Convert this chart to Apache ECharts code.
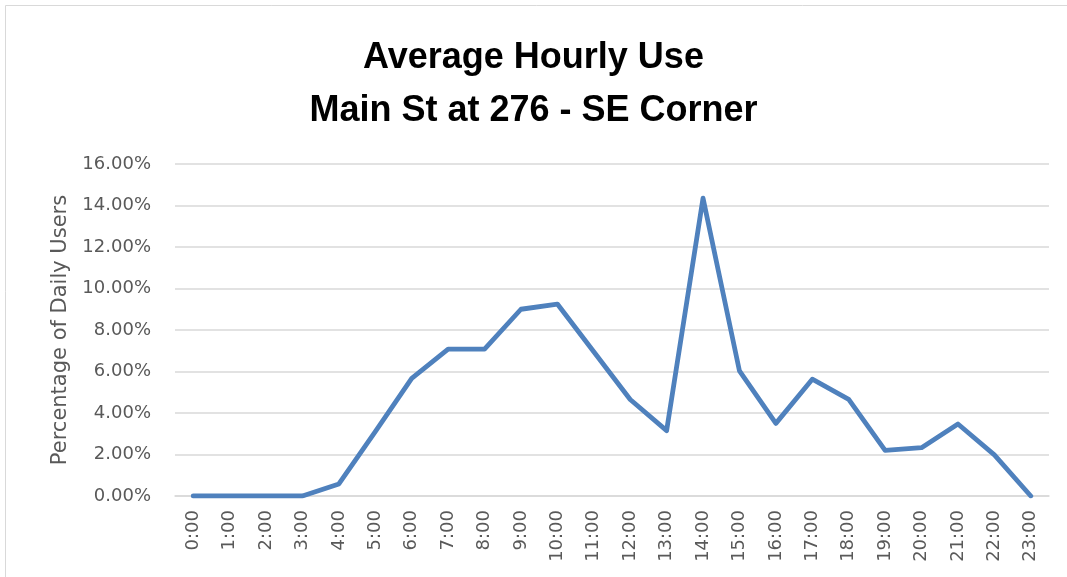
<!DOCTYPE html>
<html>
<head>
<meta charset="utf-8">
<script src="https://cdn.jsdelivr.net/npm/echarts@6/dist/echarts.min.js"></script>
<style>
  html, body { margin: 0; padding: 0; background: #fff; }
  #chart { width: 1067px; height: 577px; }
</style>
</head>
<body>
<div id="chart"></div>
<script>
const titleLines = ["Average Hourly Use", "Main St at 276 - SE Corner"];
const yAxisTitle = "Percentage of Daily Users";
const hours = ["0:00","1:00","2:00","3:00","4:00","5:00","6:00","7:00","8:00","9:00","10:00","11:00",
               "12:00","13:00","14:00","15:00","16:00","17:00","18:00","19:00","20:00","21:00","22:00","23:00"];
const usePercent = [0, 0, 0, 0, 0.58, 3.1, 5.67, 7.08, 7.08, 9.0, 9.25, 6.95,
                    4.65, 3.15, 14.35, 6.03, 3.5, 5.63, 4.66, 2.2, 2.33, 3.47, 1.98, 0];
const yMin = 0, yMax = 16, yStep = 2;

const chart = echarts.init(document.getElementById('chart'), null, { renderer: 'canvas' });
chart.setOption({
  animation: false,
  backgroundColor: '#ffffff',
  graphic: [{
    type: 'rect',
    shape: { x: 5.5, y: 5.5, width: 1100, height: 600 },
    style: { fill: 'none', stroke: '#d9d9d9', lineWidth: 1 },
    silent: true
  }],
  title: {
    text: titleLines.join('\n'),
    left: 'center',
    top: 32,
    padding: [0, 0, 0, 18],
    textStyle: {
      fontFamily: 'Liberation Sans',
      fontSize: 36,
      fontWeight: 'bold',
      color: '#000000',
      lineHeight: 53
    }
  },
  grid: { left: 175, right: 18, top: 164, bottom: 81, containLabel: false },
  xAxis: {
    type: 'category',
    data: hours,
    boundaryGap: true,
    axisLine: { show: true, lineStyle: { color: '#d9d9d9', width: 1.5 } },
    axisTick: { show: false },
    axisLabel: {
      rotate: 90,
      margin: 14,
      interval: 0,
      fontFamily: 'DejaVu Sans',
      fontSize: 18,
      color: '#595959'
    }
  },
  yAxis: {
    type: 'value',
    min: yMin,
    max: yMax,
    interval: yStep,
    name: yAxisTitle,
    nameLocation: 'middle',
    nameGap: 104,
    nameTextStyle: { fontFamily: 'DejaVu Sans', fontSize: 21, color: '#595959' },
    axisLine: { show: false },
    axisTick: { show: false },
    splitLine: { show: true, lineStyle: { color: '#d9d9d9', width: 1.5 } },
    axisLabel: {
      margin: 24,
      fontFamily: 'DejaVu Sans',
      fontSize: 18,
      color: '#595959',
      formatter: v => v.toFixed(2) + '%'
    }
  },
  series: [{
    type: 'line',
    data: usePercent,
    showSymbol: false,
    symbol: 'none',
    lineStyle: { color: '#4f81bd', width: 4.8, join: 'round', cap: 'round' },
    itemStyle: { color: '#4f81bd' }
  }]
});
</script>
</body>
</html>
